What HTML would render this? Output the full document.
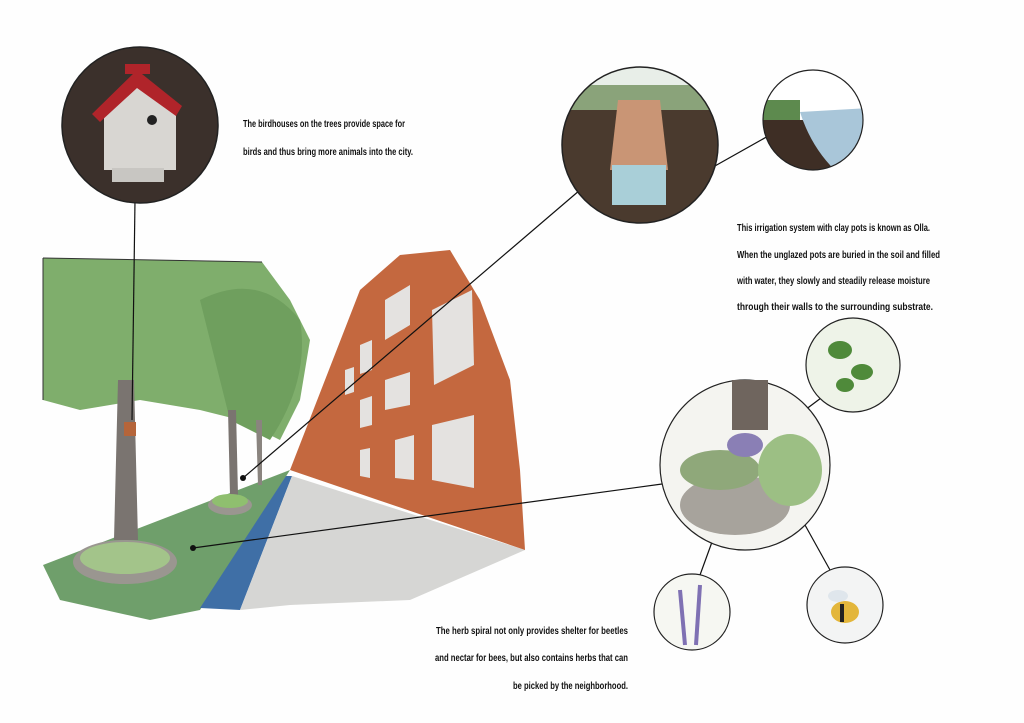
<!DOCTYPE html>
<html><head><meta charset="utf-8"><style>
html,body{margin:0;padding:0;background:#fff;}
svg{display:block}
text{font-family:"Liberation Sans Narrow","Liberation Sans",sans-serif;font-weight:bold;font-size:10px;fill:#111;}
</style></head><body>
<svg width="1024" height="723" viewBox="0 0 1024 723" xmlns="http://www.w3.org/2000/svg">
<defs>
<clipPath id="c1"><circle cx="640" cy="145" r="78"/></clipPath>
<clipPath id="c2"><circle cx="813" cy="120" r="50"/></clipPath>
<clipPath id="c3"><circle cx="140" cy="125" r="78"/></clipPath>
</defs>
<rect width="1024" height="723" fill="#fefefe"/>
<polygon points="43,565 290,470 285,478 200,610 150,620 60,600" fill="#6f9f6b"/>
<polygon points="200,608 286,476 292,476 240,610" fill="#3f6fa6"/>
<polygon points="240,610 292,476 525,550 410,600 290,605" fill="#d6d6d4"/>
<polygon points="290,470 360,290 400,255 450,250 480,300 510,380 520,470 525,550" fill="#c4683f"/>
<g fill="#e4e2e0">
<polygon points="385,300 410,285 410,325 385,340"/>
<polygon points="432,310 472,290 474,365 434,385"/>
<polygon points="432,425 474,415 474,488 432,480"/>
<polygon points="395,440 414,435 414,480 395,478"/>
<polygon points="385,380 410,372 410,405 385,410"/>
<polygon points="360,345 372,340 372,370 360,374"/>
<polygon points="360,400 372,396 372,425 360,428"/>
<polygon points="360,450 370,448 370,478 360,476"/>
<polygon points="345,370 354,367 354,392 345,395"/>
</g>
<path d="M43,258 L262,262 L290,300 L310,340 L300,400 L280,440 L240,420 L200,410 L140,400 L80,410 L43,400 Z" fill="#7fae6c"/>
<path d="M200,300 Q260,270 300,320 Q310,380 270,440 L230,420 Z" fill="#6f9f5e"/>
<path d="M43,258 L262,262" stroke="#333" stroke-width="1"/>
<line x1="43" y1="258" x2="43" y2="400" stroke="#333" stroke-width="1"/>
<polygon points="118,380 134,380 138,540 114,540" fill="#7a7470"/>
<polygon points="228,410 236,410 238,495 230,495" fill="#7a7470"/>
<polygon points="256,420 262,420 262,485 258,485" fill="#8a847f"/>
<rect x="124" y="422" width="12" height="14" fill="#b5653a"/>
<ellipse cx="125" cy="562" rx="52" ry="22" fill="#9a9690"/>
<ellipse cx="125" cy="558" rx="45" ry="16" fill="#a3c48a"/>
<ellipse cx="230" cy="505" rx="22" ry="10" fill="#9a9690"/>
<ellipse cx="230" cy="501" rx="18" ry="7" fill="#8fbf6f"/>
<g stroke="#111" stroke-width="1.2" fill="none">
<line x1="135" y1="200" x2="132" y2="420"/>
<line x1="243" y1="478" x2="580" y2="190"/>
<line x1="690" y1="180" x2="770" y2="135"/>
<line x1="193" y1="548" x2="662" y2="484"/>
<line x1="805" y1="410" x2="825" y2="395"/>
<line x1="720" y1="520" x2="700" y2="575"/>
<line x1="805" y1="525" x2="830" y2="570"/>
</g>
<circle cx="243" cy="478" r="3" fill="#111"/>
<circle cx="193" cy="548" r="3" fill="#111"/>
<!-- birdhouse circle -->
<circle cx="140" cy="125" r="78" fill="#3b302b"/>
<g clip-path="url(#c3)">
<polygon points="104,110 137,80 176,110 176,170 104,170" fill="#d8d6d2"/>
<rect x="112" y="168" width="52" height="14" fill="#c8c6c2"/>
<polygon points="92,114 137,70 182,106 176,116 137,88 100,122" fill="#b0242a"/>
<rect x="125" y="64" width="25" height="10" fill="#b0242a"/>
<circle cx="152" cy="120" r="5" fill="#222"/>
</g>
<circle cx="140" cy="125" r="78" fill="none" stroke="#222" stroke-width="1.5"/>
<!-- olla -->
<circle cx="640" cy="145" r="78" fill="#4a3a2e"/>
<g clip-path="url(#c1)">
<rect x="560" y="60" width="160" height="40" fill="#e8eee8"/>
<rect x="560" y="85" width="160" height="25" fill="#8aa37a"/>
<polygon points="618,100 660,100 668,170 610,170" fill="#c99575"/>
<rect x="612" y="165" width="54" height="40" fill="#a9cfd8"/>
</g>
<circle cx="640" cy="145" r="78" fill="none" stroke="#222" stroke-width="1.5"/>
<circle cx="813" cy="120" r="50" fill="#fff"/>
<g clip-path="url(#c2)">
<rect x="760" y="120" width="110" height="60" fill="#3e2e25"/>
<path d="M800,112 L870,108 L870,175 L840,175 Q812,150 800,112 Z" fill="#a9c6d9"/>
<rect x="760" y="100" width="40" height="20" fill="#5d8a4e"/>
</g>
<circle cx="813" cy="120" r="50" fill="none" stroke="#222" stroke-width="1.2"/>
<circle cx="745" cy="465" r="85" fill="#f4f4f0" stroke="#222" stroke-width="1.2"/>
<rect x="732" y="380" width="36" height="50" fill="#6f655e"/>
<ellipse cx="735" cy="505" rx="55" ry="30" fill="#a7a39c"/>
<ellipse cx="720" cy="470" rx="40" ry="20" fill="#8fa87a"/>
<ellipse cx="790" cy="470" rx="32" ry="36" fill="#9cbf84"/>
<ellipse cx="745" cy="445" rx="18" ry="12" fill="#8a7fb5"/>
<circle cx="853" cy="365" r="47" fill="#eef3e8" stroke="#222" stroke-width="1.2"/>
<ellipse cx="840" cy="350" rx="12" ry="9" fill="#4f8a3a"/>
<ellipse cx="862" cy="372" rx="11" ry="8" fill="#4f8a3a"/>
<ellipse cx="845" cy="385" rx="9" ry="7" fill="#4f8a3a"/>
<circle cx="692" cy="612" r="38" fill="#f6f7f2" stroke="#222" stroke-width="1.2"/>
<line x1="680" y1="590" x2="685" y2="645" stroke="#7f71b3" stroke-width="4"/>
<line x1="700" y1="585" x2="696" y2="645" stroke="#7f71b3" stroke-width="4"/>
<circle cx="845" cy="605" r="38" fill="#f3f4f4" stroke="#222" stroke-width="1.2"/>
<ellipse cx="845" cy="612" rx="14" ry="11" fill="#e3b63b"/>
<ellipse cx="838" cy="596" rx="10" ry="6" fill="#dfe6ec"/>
<rect x="840" y="604" width="4" height="18" fill="#222"/>
<text x="243" y="127" textLength="162" lengthAdjust="spacingAndGlyphs">The birdhouses on the trees provide space for</text>
<text x="243" y="155" textLength="170" lengthAdjust="spacingAndGlyphs">birds and thus bring more animals into the city.</text>
<text x="737" y="231" textLength="193" lengthAdjust="spacingAndGlyphs">This irrigation system with clay pots is known as Olla.</text>
<text x="737" y="258" textLength="203" lengthAdjust="spacingAndGlyphs">When the unglazed pots are buried in the soil and filled</text>
<text x="737" y="284" textLength="193" lengthAdjust="spacingAndGlyphs">with water, they slowly and steadily release moisture</text>
<text x="737" y="310" textLength="196" lengthAdjust="spacingAndGlyphs">through their walls to the surrounding substrate.</text>
<text x="436" y="634" textLength="192" lengthAdjust="spacingAndGlyphs">The herb spiral not only provides shelter for beetles</text>
<text x="435" y="661" textLength="193" lengthAdjust="spacingAndGlyphs">and nectar for bees, but also contains herbs that can</text>
<text x="513" y="689" textLength="115" lengthAdjust="spacingAndGlyphs">be picked by the neighborhood.</text>
</svg>
</body></html>
